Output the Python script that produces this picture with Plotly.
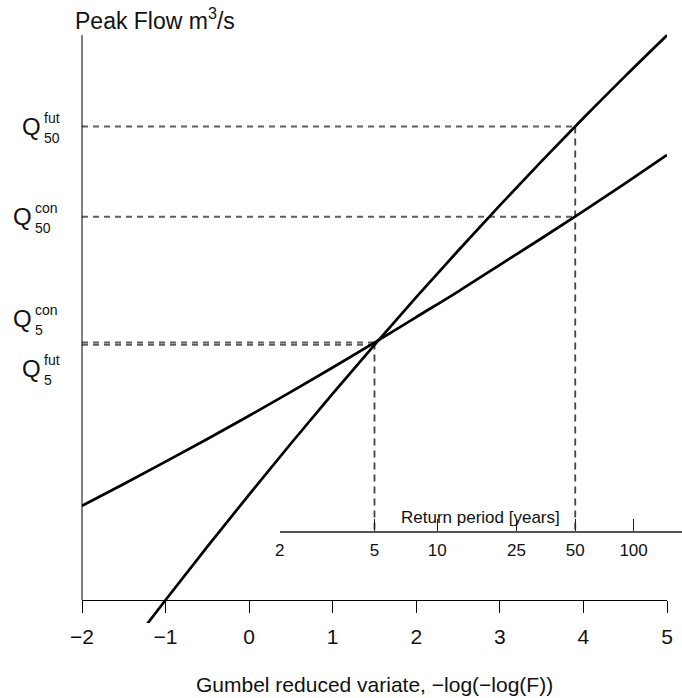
import math
import plotly.graph_objects as go

# ---------------- data ----------------
x_grid = [-2, -1.5, -1, -0.5, 0, 0.5, 1, 1.5, 2, 2.5, 3, 3.5, 4, 4.5, 5]
q_fut = [-19.4, -9.6, 0.0, 9.4, 18.6, 27.6, 36.4, 45.0, 53.4, 61.6, 69.6, 77.4, 85.0, 92.4, 99.6]
q_con = [16.6, 20.45, 24.4, 28.4, 32.5, 36.7, 41.0, 45.4, 49.9, 54.4, 59.1, 63.8, 68.6, 73.5, 78.5]

design_T = [5, 50]
design_q_con = [45.4, 67.6]
design_q_fut = [45.0, 83.5]

rp_ticks = [2, 5, 10, 25, 50, 100]
rp_labels = ["2", "5", "10", "25", "50", "100"]
x_ticks = [-2, -1, 0, 1, 2, 3, 4, 5]


def gumbel(T):
    return -math.log(-math.log(1 - 1 / T))


# ---------------- geometry ----------------
W, H = 682, 698
ML, MR, MT, MB = 82, 0, 20, 75
PW, PH = W - ML - MR, H - MT - MB
XPX = 585 / 7.0          # pixels per x unit
YPX = 5.67               # pixels per y unit
AXIS_PY = 600            # pixel row of the main x axis
RP_PY = 532              # pixel row of the return-period axis


def xp(px):
    return (px - ML) / PW


def yp(py):
    return (H - MB - py) / PH


rp_axis_y = (AXIS_PY - RP_PY) / YPX
y_range = [(AXIS_PY - (H - MB)) / YPX, (AXIS_PY - MT) / YPX]

FONT = "Liberation Sans, Arial, Helvetica, sans-serif"
fig = go.Figure()

# dashed guide lines
for T, qc, qf in zip(design_T, design_q_con, design_q_fut):
    xt = gumbel(T)
    for q in (qc, qf):
        fig.add_trace(go.Scatter(x=[-2, xt], y=[q, q], mode="lines",
                                 line=dict(color="#606060", width=2, dash="6px,5px"),
                                 hoverinfo="skip", showlegend=False))
    fig.add_trace(go.Scatter(x=[xt, xt], y=[max(qc, qf), rp_axis_y], mode="lines",
                             line=dict(color="#444444", width=1.8, dash="7px,5px"),
                             hoverinfo="skip", showlegend=False))

# curves
fig.add_trace(go.Scatter(x=x_grid, y=q_con, mode="lines", name="con",
                         line=dict(color="black", width=2.7, shape="spline"),
                         showlegend=False))
fig.add_trace(go.Scatter(x=x_grid, y=q_fut, mode="lines", name="fut",
                         line=dict(color="black", width=2.7, shape="spline"),
                         showlegend=False))

# invisible trace to carry the return-period axis
g2 = gumbel(rp_ticks[0])
fig.add_trace(go.Scatter(x=[g2], y=[rp_axis_y], xaxis="x2", yaxis="y", mode="markers",
                         marker=dict(opacity=0), hoverinfo="skip", showlegend=False))

x2_dom0 = (g2 + 2) * XPX / PW
x2_end = -2 + PW / XPX

fig.update_layout(
    width=W, height=H,
    margin=dict(l=ML, r=MR, t=MT, b=MB, pad=0, autoexpand=False),
    paper_bgcolor="white", plot_bgcolor="rgba(0,0,0,0)",
    font=dict(family=FONT, color="#111111"),
    xaxis=dict(domain=[0, 7 * XPX / PW], range=[-2, 5], anchor="free",
               position=yp(AXIS_PY), showline=True, linecolor="black", linewidth=1,
               ticks="outside", ticklen=12, tickwidth=1, tickcolor="black",
               tickvals=x_ticks, ticklabelstandoff=6,
               tickfont=dict(size=21, family=FONT, color="#111111"),
               showgrid=False, zeroline=False),
    xaxis2=dict(domain=[x2_dom0, 1.0], range=[g2, x2_end], anchor="free",
                position=yp(RP_PY), side="bottom", showline=True, linecolor="#555555",
                linewidth=1.5, ticks="inside", ticklen=12, tickwidth=1.2,
                tickcolor="#222222", tickvals=[gumbel(t) for t in rp_ticks],
                ticktext=rp_labels, ticklabelstandoff=3,
                tickfont=dict(size=17, family=FONT, color="#111111"),
                showgrid=False, zeroline=False),
    yaxis=dict(range=y_range, visible=False, showgrid=False, zeroline=False),
)

# y axis line (no ticks)
fig.add_shape(type="line", xref="paper", yref="paper", x0=0, x1=0,
              y0=yp(AXIS_PY), y1=yp(35), line=dict(color="black", width=1))

ann = []
ann.append(dict(text="Peak Flow m<sup>3</sup>/s", xref="paper", yref="paper",
                x=xp(73), y=yp(19), xanchor="left", yanchor="middle",
                showarrow=False, font=dict(size=23, family=FONT, color="#111111")))
ann.append(dict(text="Gumbel reduced variate, \u2212log(\u2212log(F))", xref="x", yref="paper",
                x=1.5, y=yp(684), xanchor="center", yanchor="middle",
                showarrow=False, font=dict(size=21, family=FONT, color="#111111")))
ann.append(dict(text="Return period [years]", xref="x2 domain", yref="paper",
                x=0.5, y=yp(517), xanchor="center", yanchor="middle",
                showarrow=False, font=dict(size=17, family=FONT, color="#111111")))

# Q labels: (superscript, subscript, value, vertical offset in px)
q_labels = [
    ("fut", "50", design_q_fut[1], 0),
    ("con", "50", design_q_con[1], 0),
    ("con", "5", design_q_con[0], 24),
    ("fut", "5", design_q_fut[0], -24),
]
for sup, sub, q, off in q_labels:
    xs = 42 if sup == "fut" else 33
    ann.append(dict(text="Q", xref="paper", yref="y", x=xp(xs + 1), y=q, yshift=off,
                    xanchor="right", yanchor="middle", showarrow=False,
                    font=dict(size=24, family=FONT, color="#111111")))
    ann.append(dict(text=sup, xref="paper", yref="y", x=xp(xs), y=q, yshift=off + 9,
                    xanchor="left", yanchor="middle", showarrow=False,
                    font=dict(size=14, family=FONT, color="#111111")))
    ann.append(dict(text=sub, xref="paper", yref="y", x=xp(xs), y=q, yshift=off - 11,
                    xanchor="left", yanchor="middle", showarrow=False,
                    font=dict(size=14, family=FONT, color="#111111")))
fig.update_layout(annotations=ann)

fig.write_html("out.html", config={"displayModeBar": False},
               post_script="document.body.style.margin='0';document.body.style.overflow='hidden';")
